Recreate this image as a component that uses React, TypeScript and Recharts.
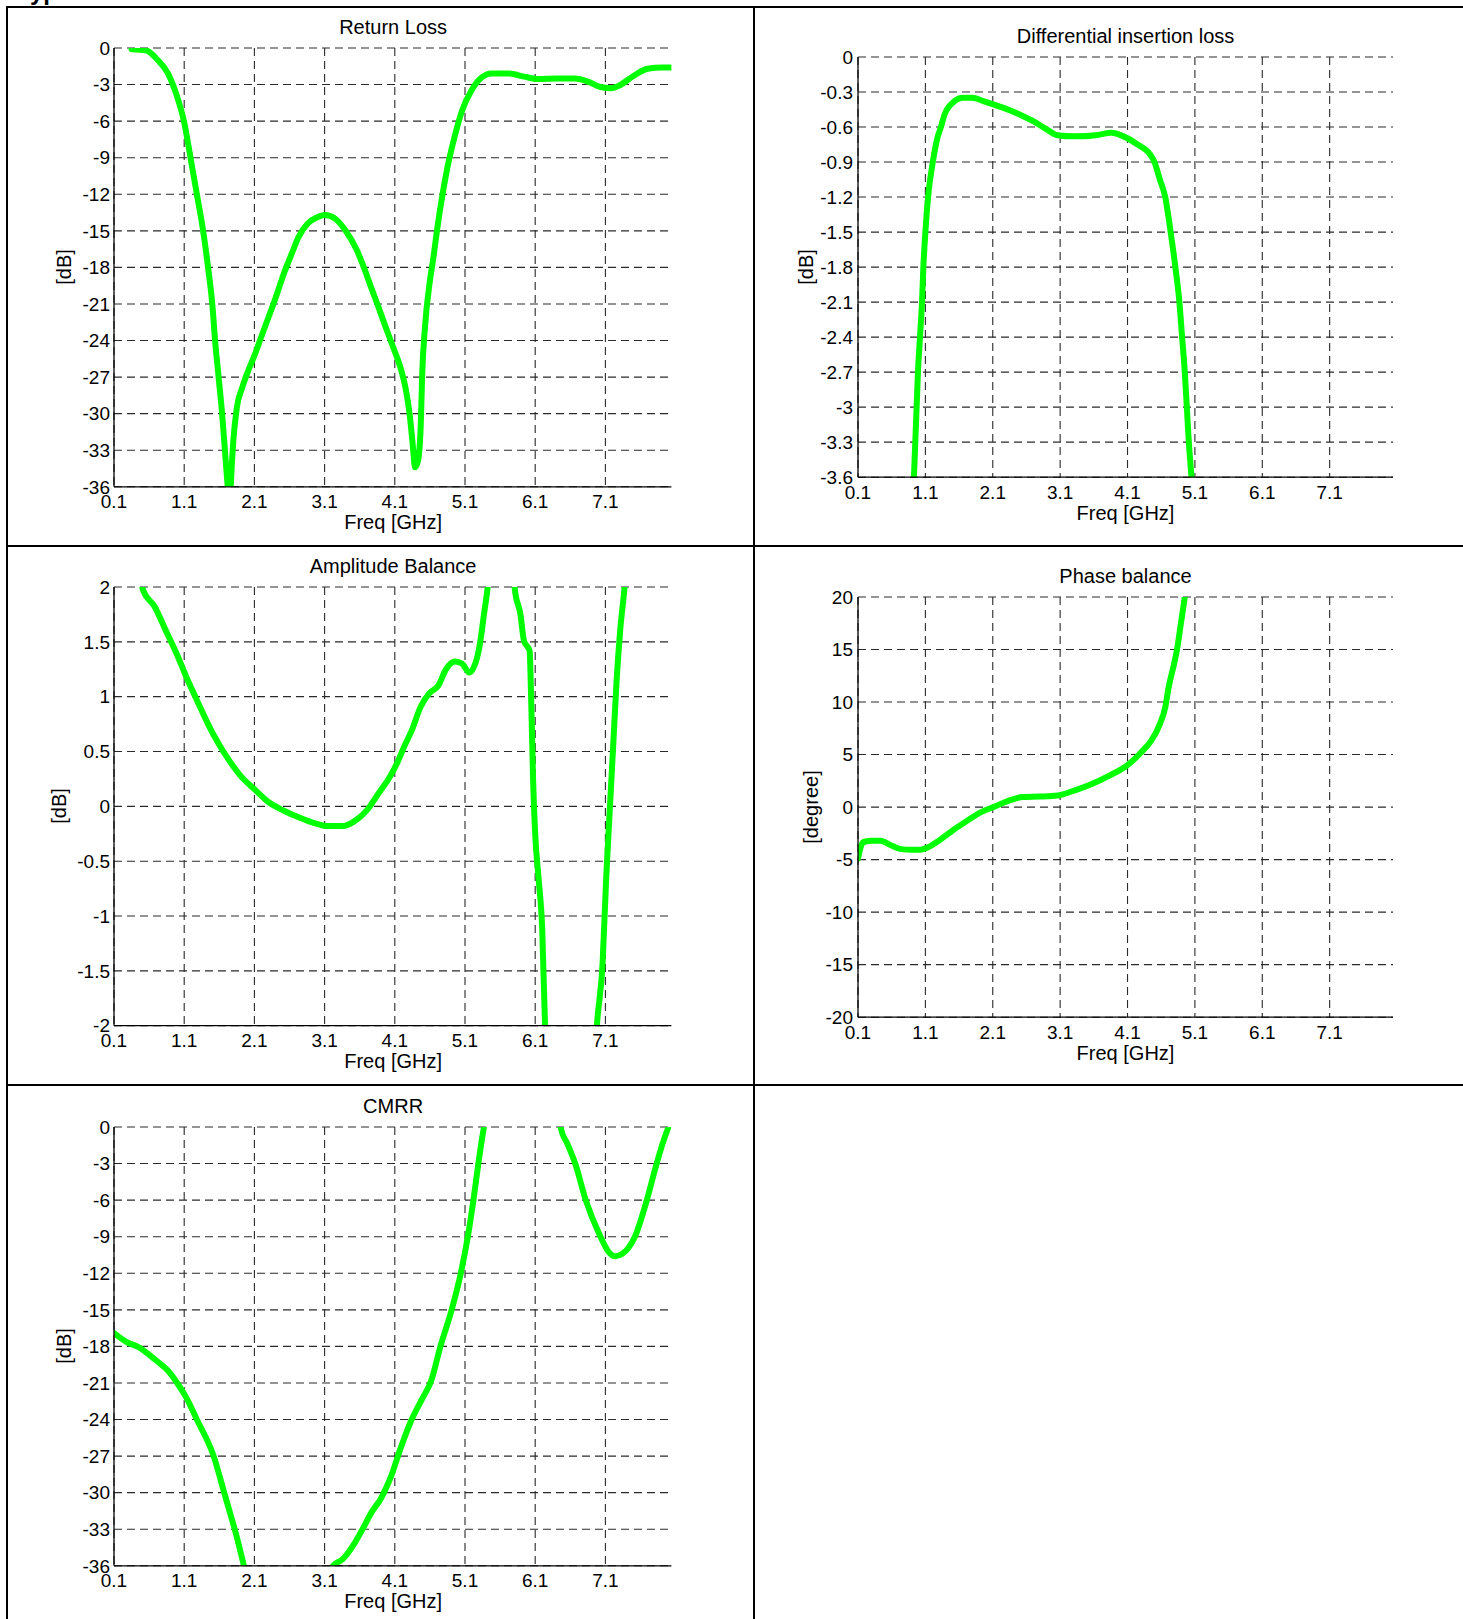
import React from 'react';
import { LineChart, Line, XAxis, YAxis, CartesianGrid } from 'recharts';

const FONT = '"Liberation Sans", Arial, Helvetica, sans-serif';
const GREEN = '#00FF00';

// ---------- shared tick labels ----------
const freqTicks = [0.1, 1.1, 2.1, 3.1, 4.1, 5.1, 6.1, 7.1];
const freqDomain: [number, number] = [0.1, 8.04];
const dbTicks36 = [0, -3, -6, -9, -12, -15, -18, -21, -24, -27, -30, -33, -36];
const ilTicks = [0, -0.3, -0.6, -0.9, -1.2, -1.5, -1.8, -2.1, -2.4, -2.7, -3, -3.3, -3.6];
const ampTicks = [2, 1.5, 1, 0.5, 0, -0.5, -1, -1.5, -2];
const phaseTicks = [20, 15, 10, 5, 0, -5, -10, -15, -20];

// ---------- Return Loss ----------
const rlFreq = [0.35, 0.56, 0.71, 0.87, 1.0, 1.1, 1.19, 1.28, 1.37, 1.44, 1.5, 1.54, 1.59, 1.64, 1.68, 1.72, 1.745, 1.78, 1.8, 1.85, 1.93, 2.01, 2.11, 2.21, 2.32, 2.42, 2.52, 2.63, 2.73, 2.86, 2.99, 3.1, 3.25, 3.4, 3.56, 3.66, 3.76, 3.87, 3.97, 4.08, 4.18, 4.26, 4.31, 4.35, 4.39, 4.43, 4.47, 4.49, 4.53, 4.6, 4.65, 4.7, 4.78, 4.85, 4.96, 5.06, 5.19, 5.32, 5.48, 5.73, 5.94, 6.15, 6.41, 6.67, 6.87, 7.03, 7.18, 7.29, 7.5, 7.7, 7.91, 8.04];
const rlDb = [-0.1, -0.2, -0.9, -2.1, -4.0, -6.1, -9.0, -12.0, -15.0, -18.0, -21.0, -24.0, -27.0, -30.0, -33.0, -36.0, -37.5, -34.0, -32.2, -29.5, -27.8, -26.5, -25.1, -23.5, -21.8, -20.2, -18.5, -16.9, -15.5, -14.4, -13.9, -13.7, -14.0, -15.0, -16.6, -18.0, -19.6, -21.3, -22.9, -24.6, -26.2, -28.1, -30.0, -32.2, -34.4, -33.9, -30.9, -26.8, -22.9, -19.1, -17.2, -15.0, -12.0, -9.8, -7.1, -5.1, -3.5, -2.5, -2.1, -2.1, -2.35, -2.55, -2.5, -2.5, -2.8, -3.2, -3.3, -3.1, -2.3, -1.7, -1.6, -1.6];

// ---------- Differential insertion loss ----------
const ilFreq = [0.92, 0.95, 0.97, 0.99, 1.02, 1.05, 1.07, 1.1, 1.14, 1.21, 1.28, 1.33, 1.38, 1.51, 1.66, 1.79, 1.97, 2.13, 2.28, 2.49, 2.7, 2.9, 3.06, 3.32, 3.63, 3.86, 4.04, 4.25, 4.43, 4.5, 4.58, 4.66, 4.74, 4.81, 4.87, 4.91, 4.95, 4.98, 5.01, 5.05, 5.07];
const ilDb = [-3.75, -3.3, -3.0, -2.7, -2.4, -2.1, -1.8, -1.5, -1.2, -0.9, -0.69, -0.6, -0.5, -0.39, -0.35, -0.35, -0.38, -0.41, -0.44, -0.49, -0.55, -0.62, -0.67, -0.68, -0.67, -0.65, -0.68, -0.75, -0.83, -0.9, -1.05, -1.2, -1.5, -1.8, -2.1, -2.4, -2.7, -3.0, -3.3, -3.6, -3.75];

// ---------- Amplitude Balance ----------
const abFreq = [0.45, 0.51, 0.68, 0.84, 1.0, 1.13, 1.28, 1.44, 1.59, 1.75, 1.9, 2.11, 2.32, 2.52, 2.73, 2.94, 3.14, 3.35, 3.56, 3.71, 3.87, 4.03, 4.13, 4.23, 4.34, 4.47, 4.59, 4.72, 4.83, 4.96, 5.06, 5.16, 5.27, 5.32, 5.37, 5.42, 5.48, 5.62, 5.76, 5.81, 5.89, 5.94, 6.02, 6.045, 6.07, 6.097, 6.15, 6.2, 6.24, 6.28, 6.6, 6.94, 6.98, 7.06, 7.11, 7.16, 7.21, 7.26, 7.31, 7.37, 7.41];
const abDb = [2.2, 1.98, 1.82, 1.6, 1.38, 1.18, 0.97, 0.75, 0.57, 0.41, 0.28, 0.15, 0.03, -0.04, -0.1, -0.15, -0.18, -0.18, -0.12, -0.03, 0.12, 0.27, 0.39, 0.54, 0.69, 0.91, 1.03, 1.1, 1.25, 1.32, 1.3, 1.22, 1.35, 1.51, 1.75, 1.98, 2.4, 3.5, 2.4, 1.98, 1.75, 1.51, 1.42, 0.91, 0.24, -0.22, -0.67, -1.12, -1.99, -2.4, -4.0, -2.4, -1.99, -1.43, -0.67, -0.06, 0.54, 1.15, 1.6, 1.98, 2.3];

// ---------- Phase balance ----------
const pbFreq = [0.1, 0.14, 0.19, 0.32, 0.43, 0.58, 0.74, 0.89, 1.02, 1.15, 1.3, 1.51, 1.72, 1.92, 2.13, 2.33, 2.54, 2.8, 3.06, 3.32, 3.57, 3.83, 4.1, 4.3, 4.45, 4.58, 4.66, 4.71, 4.79, 4.84, 4.89, 4.95, 4.98];
const pbDeg = [-4.9, -3.8, -3.3, -3.2, -3.2, -3.6, -4.0, -4.05, -4.05, -3.8, -3.2, -2.2, -1.3, -0.5, 0.05, 0.6, 0.95, 1.0, 1.1, 1.6, 2.2, 3.0, 4.0, 5.2, 6.3, 7.9, 9.5, 11.4, 13.6, 15.2, 17.4, 20.0, 21.5];

// ---------- CMRR ----------
const cmFreq = [0.1, 0.3, 0.43, 0.71, 0.87, 1.0, 1.13, 1.28, 1.52, 1.67, 1.75, 1.82, 1.9, 1.95, 2.02, 2.6, 3.15, 3.22, 3.35, 3.51, 3.64, 3.77, 3.9, 4.05, 4.18, 4.34, 4.48, 4.62, 4.75, 4.91, 5.04, 5.14, 5.22, 5.29, 5.37, 5.42, 5.9, 6.42, 6.46, 6.56, 6.67, 6.82, 7.03, 7.14, 7.24, 7.34, 7.43, 7.52, 7.69, 7.83, 7.93, 8.04];
const cmDb = [-16.9, -17.7, -18.0, -19.2, -20.0, -21.0, -22.2, -24.0, -27.0, -30.0, -31.6, -33.0, -34.8, -36.0, -38.0, -50.0, -38.0, -36.0, -35.5, -34.3, -33.0, -31.6, -30.5, -28.6, -26.4, -24.0, -22.4, -20.8, -18.0, -15.0, -12.0, -9.0, -6.0, -3.0, 0.0, 1.5, 8.0, 1.5, 0.0, -1.4, -3.0, -6.0, -9.0, -10.2, -10.6, -10.4, -9.9, -9.0, -6.0, -3.0, -1.1, 0.6];

type PanelProps = {
  title: string;
  yLabel: string;
  yLabelOffset: number;
  freq: number[];
  values: number[];
  yDomain: [number, number];
  yTicks: number[];
  plotLeft: number;
  plotTop: number;
  plotWidth: number;
  plotHeight: number;
  tickGap: number;
};

const fmt = (v: number) => String(Number(v.toFixed(1)));

function Panel(p: PanelProps) {
  const data = p.freq.map((f, i) => ({ f, v: p.values[i] }));
  const padL = 100;
  const padT = 12;
  const padR = 12;
  const axisH = 40;
  const yW = 60;
  const width = padL + p.plotWidth + padR;
  const height = padT + p.plotHeight + axisH;
  const cx = p.plotLeft + p.plotWidth / 2;
  const textBase: React.CSSProperties = {
    position: 'absolute',
    whiteSpace: 'nowrap',
    fontFamily: FONT,
    fontSize: 20,
    lineHeight: 1,
    color: '#000',
  };
  const gridProps: any = { verticalValues: freqTicks, horizontalValues: p.yTicks };
  return (
    <>
      <div style={{ position: 'absolute', left: p.plotLeft - padL, top: p.plotTop - padT }}>
        <LineChart
          width={width}
          height={height}
          data={data}
          margin={{ top: padT, right: padR, bottom: 0, left: padL - yW }}
        >
          <CartesianGrid stroke="#2a2a2a" strokeDasharray="8 5" strokeWidth={1.1} {...gridProps} />
          <XAxis
            type="number"
            dataKey="f"
            domain={freqDomain}
            ticks={freqTicks}
            interval={0}
            allowDataOverflow
            tickFormatter={(v: number) => v.toFixed(1)}
            height={axisH}
            tickLine={false}
            tickSize={6}
            tickMargin={2}
            axisLine={{ stroke: '#000', strokeWidth: 1.3 }}
            tick={{ fill: '#000', fontSize: 19, fontFamily: FONT }}
          />
          <YAxis
            type="number"
            domain={p.yDomain}
            ticks={p.yTicks}
            interval={0}
            allowDataOverflow
            width={yW}
            tickFormatter={fmt}
            tickLine={false}
            tickSize={2}
            tickMargin={p.tickGap - 2}
            axisLine={{ stroke: '#000', strokeWidth: 1.3 }}
            tick={{ fill: '#000', fontSize: 19, fontFamily: FONT }}
          />
          <Line
            type="monotone"
            dataKey="v"
            stroke={GREEN}
            strokeWidth={6}
            strokeLinejoin="round"
            strokeLinecap="round"
            dot={false}
            activeDot={false}
            isAnimationActive={false}
          />
        </LineChart>
      </div>
      <div style={{ ...textBase, left: cx, top: p.plotTop - 21, transform: 'translate(-50%, -50%)' }}>{p.title}</div>
      <div style={{ ...textBase, left: cx, top: p.plotTop + p.plotHeight + 36, transform: 'translate(-50%, -50%)' }}>Freq [GHz]</div>
      <div
        style={{
          ...textBase,
          left: p.plotLeft - p.yLabelOffset,
          top: p.plotTop + p.plotHeight / 2,
          transform: 'translate(-50%, -50%) rotate(-90deg)',
        }}
      >
        {p.yLabel}
      </div>
    </>
  );
}

const line = (l: number, t: number, w: number, h: number): React.CSSProperties => ({
  position: 'absolute',
  left: l,
  top: t,
  width: w,
  height: h,
  background: '#000',
});

export default function App() {
  const LW = 557.4;
  const RW = 535;
  return (
    <div
      style={{
        position: 'absolute',
        left: 0,
        top: 0,
        width: 1463,
        height: 1619,
        background: '#fff',
        overflow: 'hidden',
      }}
    >
      <svg width={400} height={20} style={{ position: 'absolute', left: 0, top: 0 }}>
        <text x={17} y={0} fontFamily={FONT} fontWeight="bold" fontSize={24} fill="#000">
          Typical Performance
        </text>
      </svg>
      {/* table borders */}
      <div style={line(6, 6, 1457, 2)} />
      <div style={line(6, 6, 2, 1613)} />
      <div style={line(753, 6, 2, 1613)} />
      <div style={line(6, 545, 1457, 2)} />
      <div style={line(6, 1084, 1457, 2)} />

      <Panel title="Return Loss" yLabel="[dB]" yLabelOffset={50} freq={rlFreq} values={rlDb}
        yDomain={[-36, 0]} yTicks={dbTicks36} plotLeft={114.4} plotTop={47.5} plotWidth={LW} plotHeight={438.8} tickGap={4} />
      <Panel title="Differential insertion loss" yLabel="[dB]" yLabelOffset={51.6} freq={ilFreq} values={ilDb}
        yDomain={[-3.6, 0]} yTicks={ilTicks} plotLeft={858} plotTop={56.8} plotWidth={RW} plotHeight={420.2} tickGap={5} />
      <Panel title="Amplitude Balance" yLabel="[dB]" yLabelOffset={55.5} freq={abFreq} values={abDb}
        yDomain={[-2, 2]} yTicks={ampTicks} plotLeft={114.4} plotTop={586.5} plotWidth={LW} plotHeight={438.7} tickGap={4} />
      <Panel title="Phase balance" yLabel="[degree]" yLabelOffset={47.5} freq={pbFreq} values={pbDeg}
        yDomain={[-20, 20]} yTicks={phaseTicks} plotLeft={858} plotTop={596.8} plotWidth={RW} plotHeight={420.2} tickGap={5} />
      <Panel title="CMRR" yLabel="[dB]" yLabelOffset={50} freq={cmFreq} values={cmDb}
        yDomain={[-36, 0]} yTicks={dbTicks36} plotLeft={114.4} plotTop={1126.5} plotWidth={LW} plotHeight={438.8} tickGap={4} />
    </div>
  );
}
